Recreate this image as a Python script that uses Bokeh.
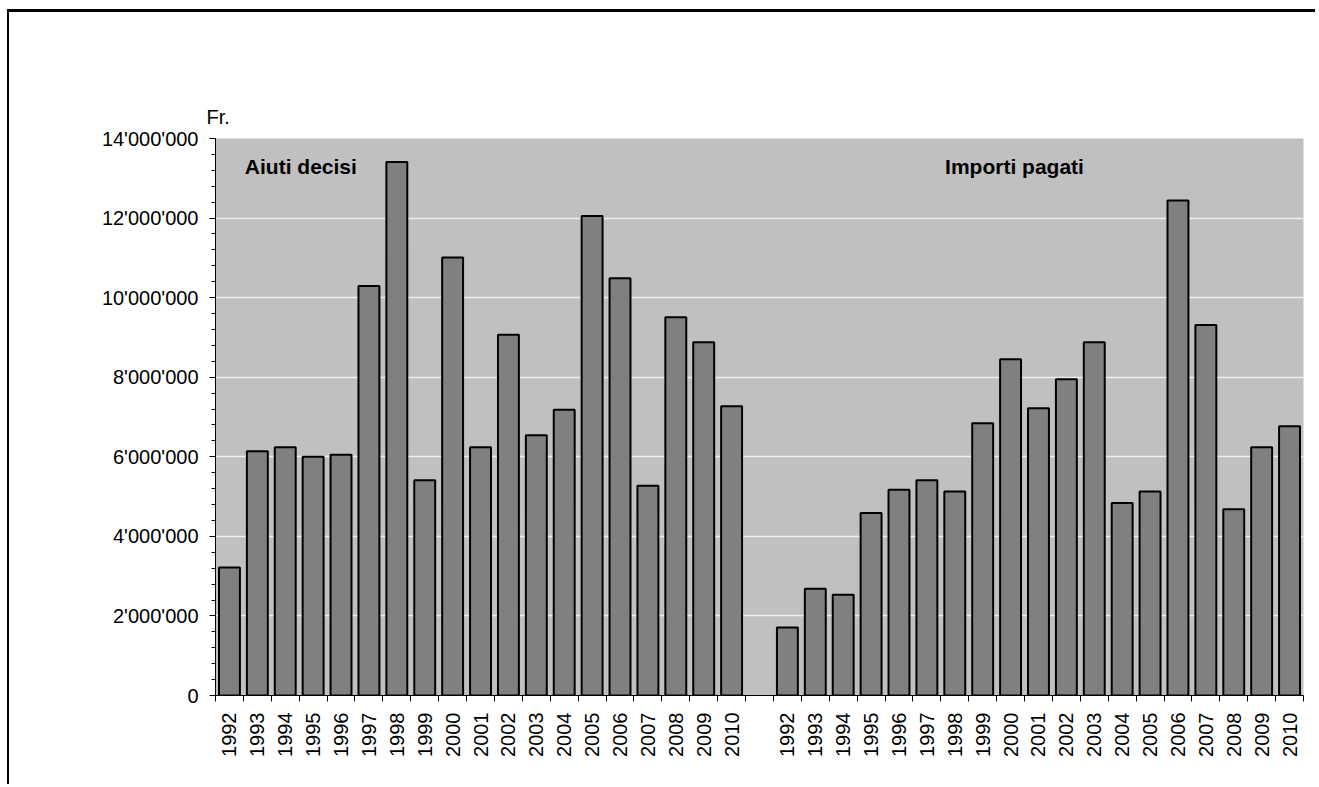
import math
from bokeh.plotting import figure
from bokeh.models import (ColumnDataSource, FixedTicker, SingleIntervalTicker,
                          CustomJSTickFormatter, Label, Range1d)
from bokeh.embed import file_html
from bokeh.resources import INLINE

years = ["1992", "1993", "1994", "1995", "1996", "1997", "1998", "1999", "2000",
         "2001", "2002", "2003", "2004", "2005", "2006", "2007", "2008", "2009", "2010"]
aiuti_decisi = [3.22e6, 6.14e6, 6.24e6, 6.00e6, 6.05e6, 10.29e6, 13.41e6, 5.41e6, 11.01e6,
                6.24e6, 9.07e6, 6.54e6, 7.18e6, 12.05e6, 10.49e6, 5.27e6, 9.51e6, 8.88e6, 7.27e6]
importi_pagati = [1.71e6, 2.68e6, 2.53e6, 4.59e6, 5.17e6, 5.41e6, 5.13e6, 6.84e6, 8.45e6,
                  7.22e6, 7.95e6, 8.88e6, 4.84e6, 5.13e6, 12.44e6, 9.31e6, 4.68e6, 6.24e6, 6.77e6]
group_titles = ["Aiuti decisi", "Importi pagati"]
y_unit = "Fr."

n = len(years)
x_dec = [i + 0.5 for i in range(n)]
x_pag = [n + 1 + i + 0.5 for i in range(n)]
total = 2 * n + 1

FONT = "Liberation Sans"

p = figure(width=1308, height=775, output_backend="svg", toolbar_location=None,
           x_range=Range1d(0, total), y_range=Range1d(0, 14e6),
           min_border_left=206, min_border_right=14, min_border_top=126, min_border_bottom=92)
p.styles = {"border-top": "3px solid black", "border-left": "2px solid black",
            "margin-top": "9px", "margin-left": "7px"}

p.title.text = y_unit
p.title.align = "left"
p.title.offset = -9
p.title.standoff = 21
p.title.text_font = FONT
p.title.text_font_size = "20px"
p.title.text_font_style = "normal"
p.title.text_color = "black"

p.background_fill_color = "#C0C0C0"
p.border_fill_color = "white"
p.outline_line_color = None

src = ColumnDataSource(dict(x=x_dec + x_pag, top=aiuti_decisi + importi_pagati))
p.vbar(x="x", top="top", bottom=0, width=0.75, source=src,
       fill_color="#808080", line_color="black", line_width=2)

# y axis
yax = p.yaxis[0]
yax.ticker = SingleIntervalTicker(interval=2e6, num_minor_ticks=5)
yax.formatter = CustomJSTickFormatter(code="""
return tick.toFixed(0).replace(/\\B(?=(\\d{3})+(?!\\d))/g, "'");
""")
yax.major_tick_out = 6
yax.major_tick_in = 0
yax.minor_tick_out = 4
yax.minor_tick_in = 0
yax.axis_line_color = "black"
yax.major_tick_line_color = "black"
yax.minor_tick_line_color = "black"
yax.major_label_text_font = FONT
yax.major_label_text_font_size = "20px"
yax.major_label_text_color = "black"
yax.major_label_standoff = 11

# x axis
xax = p.xaxis[0]
centers = x_dec + x_pag
xax.ticker = FixedTicker(ticks=centers, minor_ticks=list(range(total + 1)))
xax.major_label_overrides = {c: lab for c, lab in zip(centers, years + years)}
xax.major_label_orientation = math.pi / 2
xax.major_tick_out = 0
xax.major_tick_in = 0
xax.major_tick_line_color = None
xax.minor_tick_out = 6
xax.minor_tick_in = 0
xax.minor_tick_line_color = "black"
xax.axis_line_color = "black"
xax.major_label_text_font = FONT
xax.major_label_text_font_size = "20px"
xax.major_label_text_color = "black"
xax.major_label_standoff = 11

p.xgrid.visible = False
p.ygrid.grid_line_color = "#EEEEEE"
p.ygrid.grid_line_width = 1.5

p.add_layout(Label(x=3.06, y=13.3e6, text=group_titles[0], text_align="center",
                   text_baseline="alphabetic", text_font=FONT, text_font_size="21px",
                   text_font_style="bold", text_color="black"))
p.add_layout(Label(x=28.64, y=13.3e6, text=group_titles[1], text_align="center",
                   text_baseline="alphabetic", text_font=FONT, text_font_size="21px",
                   text_font_style="bold", text_color="black"))

open("out.html", "w").write(file_html(p, INLINE))
